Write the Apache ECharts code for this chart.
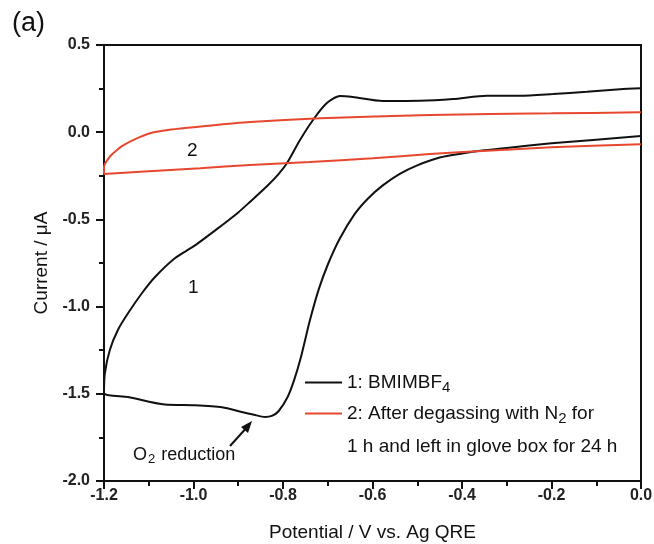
<!DOCTYPE html>
<html>
<head>
<meta charset="utf-8">
<script src="https://cdn.jsdelivr.net/npm/echarts@6/dist/echarts.min.js"></script>
<style>
  html, body { margin: 0; padding: 0; background: #fff; }
  #chart { width: 654px; height: 544px; }
</style>
</head>
<body>
<div id="chart"></div>
<script>
// potential (V) / current (uA) pairs
const bmimbf4 = [
  [0.0, -0.022], [-0.1, -0.043], [-0.2, -0.064], [-0.3, -0.09], [-0.35, -0.104],
  [-0.4, -0.122], [-0.45, -0.145], [-0.5, -0.19], [-0.54, -0.24], [-0.577, -0.305],
  [-0.61, -0.38], [-0.64, -0.47], [-0.673, -0.61], [-0.7, -0.76], [-0.72, -0.9],
  [-0.74, -1.08], [-0.76, -1.29], [-0.775, -1.42], [-0.79, -1.52], [-0.81, -1.6],
  [-0.825, -1.627], [-0.84, -1.633], [-0.865, -1.62], [-0.892, -1.604], [-0.936, -1.577],
  [-0.997, -1.566], [-1.064, -1.562], [-1.146, -1.518], [-1.2, -1.495],
  [-1.198, -1.381], [-1.187, -1.249], [-1.169, -1.134], [-1.146, -1.037], [-1.115, -0.922],
  [-1.086, -0.83], [-1.041, -0.721], [-1.0, -0.655], [-0.95, -0.56], [-0.9, -0.46],
  [-0.874, -0.4], [-0.836, -0.31], [-0.81, -0.24], [-0.791, -0.177], [-0.762, -0.045],
  [-0.733, 0.07], [-0.702, 0.167], [-0.673, 0.208], [-0.644, 0.202], [-0.577, 0.179],
  [-0.494, 0.18], [-0.42, 0.19], [-0.344, 0.209], [-0.27, 0.209], [-0.197, 0.219],
  [-0.121, 0.232], [-0.047, 0.246], [0.0, 0.252]
];
const degassed = [
  [0.0, 0.114], [-0.2, 0.108], [-0.472, 0.099], [-0.717, 0.08], [-0.874, 0.058],
  [-0.985, 0.032], [-1.05, 0.015], [-1.097, -0.006], [-1.135, -0.045], [-1.16, -0.08],
  [-1.171, -0.102], [-1.187, -0.14], [-1.2, -0.198],
  [-1.2, -0.24], [-1.1, -0.224], [-0.985, -0.207], [-0.874, -0.188], [-0.74, -0.171],
  [-0.6, -0.15], [-0.472, -0.125], [-0.344, -0.106], [-0.2, -0.087], [0.0, -0.069]
];
const seriesNames = ['BMIMBF4', 'degassed'];
const xRange = [-1.2, 0.0];
const yRange = [-2.0, 0.5];

const FONT = 'Liberation Sans, Arial, sans-serif';
const chart = echarts.init(document.getElementById('chart'));

const legendBase = {
  orient: 'vertical',
  icon: 'rect',
  itemWidth: 37,
  itemHeight: 2,
  padding: 0,
  selectedMode: false,
  textStyle: {
    fontFamily: FONT, fontSize: 19, color: '#111',
    rich: {
      t: { fontFamily: FONT, fontSize: 19, color: '#111' },
      sub: { fontFamily: FONT, fontSize: 15, color: '#111', padding: [10, 0, 0, 0] }
    }
  }
};

chart.setOption({
  backgroundColor: '#fff',
  animation: false,
  grid: {
    left: 104, right: 13, top: 45, bottom: 63,
    outerBoundsMode: 'none',
    show: true, borderColor: '#111', borderWidth: 2
  },
  xAxis: {
    type: 'value',
    min: xRange[0], max: xRange[1], interval: 0.2,
    name: 'Potential / V vs. Ag QRE',
    nameLocation: 'middle', nameGap: 42,
    nameTextStyle: { fontFamily: FONT, fontSize: 19, color: '#111' },
    axisLine: { onZero: false, lineStyle: { color: '#111', width: 2 } },
    axisTick: { length: 8, lineStyle: { color: '#111', width: 2 } },
    minorTick: { show: true, splitNumber: 2, length: 5, lineStyle: { color: '#111', width: 2 } },
    splitLine: { show: false },
    axisLabel: {
      fontFamily: FONT, fontSize: 16, fontWeight: 'bold', color: '#222', margin: 7,
      formatter: v => v.toFixed(1)
    }
  },
  yAxis: {
    type: 'value',
    min: yRange[0], max: yRange[1], interval: 0.5,
    name: 'Current / μA',
    nameLocation: 'middle', nameGap: 45,
    nameTextStyle: { fontFamily: FONT, fontSize: 19, color: '#111' },
    axisLine: { show: true, onZero: false, lineStyle: { color: '#111', width: 2 } },
    axisTick: { show: true, length: 8, lineStyle: { color: '#111', width: 2 } },
    minorTick: { show: true, splitNumber: 2, length: 5, lineStyle: { color: '#111', width: 2 } },
    splitLine: { show: false },
    axisLabel: {
      fontFamily: FONT, fontSize: 16, fontWeight: 'bold', color: '#222', margin: 14,
      formatter: v => v.toFixed(1)
    }
  },
  legend: [
    Object.assign({}, legendBase, {
      left: 305, top: 373, data: [seriesNames[0]],
      formatter: () => '{t|1: BMIMBF}{sub|4}'
    }),
    Object.assign({}, legendBase, {
      left: 305, top: 404, data: [seriesNames[1]],
      formatter: () => '{t|2: After degassing with N}{sub|2}{t| for}'
    })
  ],
  graphic: [
    { type: 'text', left: 12, top: 10,
      style: { text: '(a)', fontFamily: FONT, fontSize: 27, fill: '#111' } },
    { type: 'text', left: 347, top: 437,
      style: { text: '1 h and left in glove box for 24 h', fontFamily: FONT, fontSize: 19, fill: '#111' } },
    { type: 'text', left: 187, top: 141,
      style: { text: '2', fontFamily: FONT, fontSize: 19, fill: '#111' } },
    { type: 'text', left: 188, top: 278,
      style: { text: '1', fontFamily: FONT, fontSize: 19, fill: '#111' } },
    { type: 'text', left: 133, top: 446,
      style: {
        text: '{t|O}{sub|2}{t| reduction}',
        rich: {
          t: { fontFamily: FONT, fontSize: 18, fill: '#111' },
          sub: { fontFamily: FONT, fontSize: 13, fill: '#111', padding: [9, 1, 0, 1] }
        }
      } },
    { type: 'line', shape: { x1: 230, y1: 446, x2: 249, y2: 425 },
      style: { stroke: '#111', lineWidth: 2 } },
    { type: 'polygon', shape: { points: [[252, 421], [241, 427], [248, 433]] },
      style: { fill: '#111' } }
  ],
  series: [
    {
      name: seriesNames[0], type: 'line', data: bmimbf4,
      showSymbol: false, smooth: 0.25,
      lineStyle: { color: '#111', width: 2 }, itemStyle: { color: '#111' }
    },
    {
      name: seriesNames[1], type: 'line', data: degassed,
      showSymbol: false, smooth: 0.25,
      lineStyle: { color: '#e8472f', width: 2 }, itemStyle: { color: '#e8472f' }
    }
  ]
});
</script>
</body>
</html>
